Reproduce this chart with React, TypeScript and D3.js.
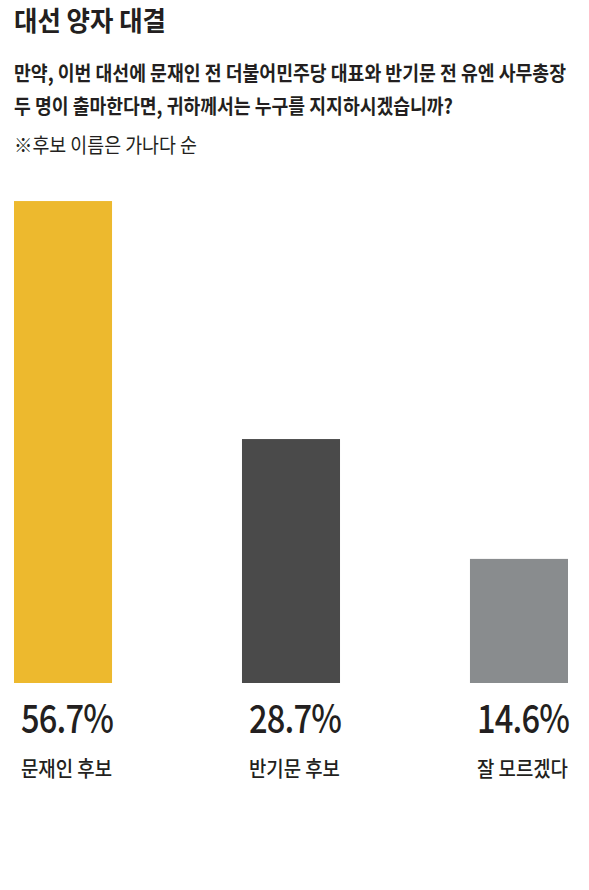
import { useMemo } from "react";
import * as d3 from "d3";

const WIDTH = 589;
const HEIGHT = 890;

const categories = ["문재인 후보", "반기문 후보", "잘 모르겠다"];
const values = [56.7, 28.7, 14.6];
const valueLabels = ["56.7%", "28.7%", "14.6%"];
const colors = ["#EDB92E", "#4A4A4A", "#898C8E"];

const title = "대선 양자 대결";
const question = [
  "만약, 이번 대선에 문재인 전 더불어민주당 대표와 반기문 전 유엔 사무총장",
  "두 명이 출마한다면, 귀하께서는 누구를 지지하시겠습니까?",
];
const note = "※후보 이름은 가나다 순";

const FONT = "'Noto Sans CJK KR', 'Noto Sans', sans-serif";
const INK = "#231F20";

function App() {
  const xScale = useMemo(
    () =>
      d3
        .scaleBand()
        .domain(categories)
        .range([14, 568])
        .paddingInner(0.57)
        .paddingOuter(0),
    []
  );

  const yScale = useMemo(
    () => d3.scaleLinear().domain([0, 60]).range([683, 683 - 510]),
    []
  );

  const bars = categories.map((c, i) => {
    const x = xScale(c) ?? 0;
    return (
      <g key={c}>
        <rect
          x={x}
          y={yScale(values[i])}
          width={xScale.bandwidth()}
          height={yScale(0) - yScale(values[i])}
          fill={colors[i]}
        />
        <text
          x={x + 7}
          y={733}
          fontSize={39}
          fontWeight={500}
          fill={INK}
          textLength={92}
          lengthAdjust="spacingAndGlyphs"
          letterSpacing={-1}
        >
          {valueLabels[i]}
        </text>
        <text
          x={x + 7}
          y={776}
          fontSize={21}
          fontWeight={500}
          fill={INK}
          textLength={91}
          lengthAdjust="spacingAndGlyphs"
        >
          {c}
        </text>
      </g>
    );
  });

  // subtitle lines drawn small and stretched vertically (condensed look)
  const lines = [
    { text: question[0], y: 81, len: 552, weight: 700 },
    { text: question[1], y: 114, len: 439, weight: 700 },
    { text: note, y: 153, len: 183, weight: 400 },
  ];

  return (
    <svg
      width={WIDTH}
      height={HEIGHT}
      style={{ position: "absolute", left: 0, top: 0, fontFamily: FONT }}
    >
      <rect width={WIDTH} height={HEIGHT} fill="#fff" />
      <text
        x={14}
        y={31}
        fontSize={27}
        fontWeight={700}
        fill={INK}
        textLength={152}
        lengthAdjust="spacingAndGlyphs"
      >
        {title}
      </text>
      {lines.map((l) => (
        <g key={l.text} transform={`translate(14,${l.y}) scale(1,1.2)`}>
          <text
            x={0}
            y={0}
            fontSize={17}
            fontWeight={l.weight}
            fill={INK}
            textLength={l.len}
            lengthAdjust="spacingAndGlyphs"
          >
            {l.text}
          </text>
        </g>
      ))}
      {bars}
    </svg>
  );
}

export default App;
